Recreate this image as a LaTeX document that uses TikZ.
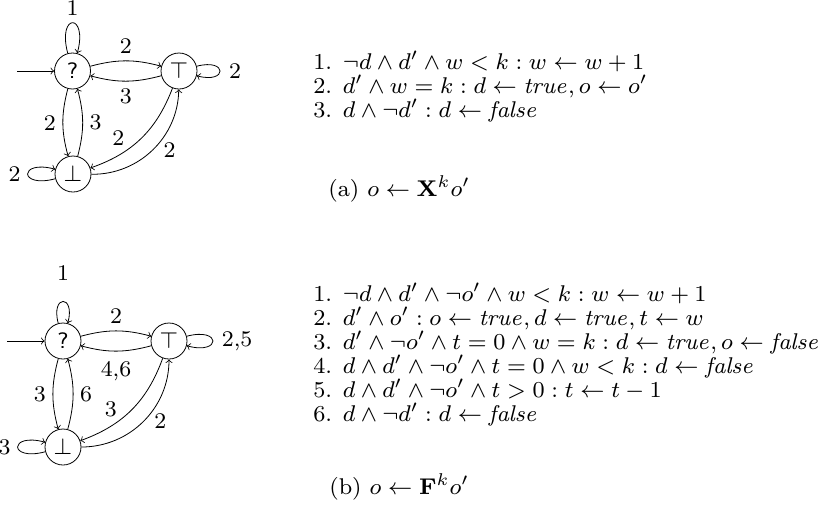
\documentclass[tikz,border=0pt]{standalone}
\newcommand{\zz}[1]{\scalebox{1.4}{\footnotesize #1}}
\newcommand{\zt}[1]{\scalebox{1.423}{\footnotesize #1}}
\begin{document}
\begin{tikzpicture}[x=0.5pt,y=-0.5pt,>=to,
  st/.style={draw,circle,minimum size=18pt,inner sep=0pt},
  txt/.style={anchor=base west,inner sep=0pt}]
\useasboundingbox (0,0) rectangle (823,509);
% ---------- top automaton
\node[st] (q1) at (72.5,71) {\zz{\textsf{?}}};
\node[st] (t1) at (179,71) {\zz{$\top$}};
\node[st] (b1) at (73,174) {\zz{$\bot$}};
\coordinate (i1) at (17,71);
\draw[->] (i1) -- (q1);
\draw[->] (q1) to[loop above,looseness=1,min distance=21pt] node[above] {\zz{1}} (q1);
\draw[->] (t1) to[loop right,looseness=1,min distance=16pt] node[right,xshift=1pt] {\zz{2}} (t1);
\draw[->] (b1) to[loop left,looseness=1,min distance=19pt] node[left] {\zz{2}} (b1);
\draw[->] (q1) to[bend left=15] node[above] {\zz{2}} (t1);
\draw[->] (t1) to[bend left=15] node[below] {\zz{3}} (q1);
\draw[->] (q1) to[bend right=15] node[left] {\zz{2}} (b1);
\draw[->] (b1) to[bend right=15] node[right] {\zz{3}} (q1);
\draw[->] (t1) to[bend left=25] node[left,xshift=-5pt] {\zz{2}} (b1);
\draw[->] (b1) to[bend right=45] node[right,xshift=2pt] {\zz{2}} (t1);
% ---------- top rules
\node[txt] (a1) at (313,69) {\zt{1. $\neg d \wedge d' \wedge w < k : w \leftarrow w+1$}};
\node[txt] (a2) at (313,93) {\zt{2. $d' \wedge w = k : d \leftarrow \mathit{true}, o \leftarrow o'$}};
\node[txt] (a3) at (313,117) {\zt{3. $d \wedge \neg d' : d \leftarrow \mathit{false}$}};
\node[txt] (ca) at (328,196) {\zt{(a) $o \leftarrow \mathbf{X}^k o'$}};
% ---------- bottom automaton
\node[st] (q2) at (63,341) {\zz{\textsf{?}}};
\node[st] (t2) at (169,341) {\zz{$\top$}};
\node[st] (b2) at (63,447) {\zz{$\bot$}};
\coordinate (i2) at (7,341);
\draw[->] (i2) -- (q2);
\draw[->] (q2) to[loop above,looseness=1,min distance=15pt] node[above,yshift=7pt] {\zz{1}} (q2);
\draw[->] (t2) to[loop right,looseness=1,min distance=18pt] node[right,xshift=1pt] {\zz{2,5}} (t2);
\draw[->] (b2) to[loop left,looseness=1,min distance=19pt] node[left] {\zz{3}} (b2);
\draw[->] (q2) to[bend left=15] node[above] {\zz{2}} (t2);
\draw[->] (t2) to[bend left=15] node[below,yshift=-1.5pt] {\zz{4,6}} (q2);
\draw[->] (q2) to[bend right=15] node[left] {\zz{3}} (b2);
\draw[->] (b2) to[bend right=15] node[right] {\zz{6}} (q2);
\draw[->] (t2) to[bend left=25] node[left,xshift=-4pt] {\zz{3}} (b2);
\draw[->] (b2) to[bend right=45] node[right,xshift=2pt] {\zz{2}} (t2);
% ---------- bottom rules
\node[txt] (r1) at (313,301) {\zt{1. $\neg d \wedge d' \wedge \neg o' \wedge w < k : w \leftarrow w+1$}};
\node[txt] (r2) at (313,325) {\zt{2. $d' \wedge o' : o \leftarrow \mathit{true}, d \leftarrow \mathit{true}, t \leftarrow w$}};
\node[txt] (r3) at (313,349) {\zt{3. $d' \wedge \neg o' \wedge t = 0 \wedge w = k : d \leftarrow \mathit{true}, o \leftarrow \mathit{false}$}};
\node[txt] (r4) at (313,373) {\zt{4. $d \wedge d' \wedge \neg o' \wedge t = 0 \wedge w < k : d \leftarrow \mathit{false}$}};
\node[txt] (r5) at (313,397) {\zt{5. $d \wedge d' \wedge \neg o' \wedge t > 0 : t \leftarrow t-1$}};
\node[txt] (r6) at (313,421) {\zt{6. $d \wedge \neg d' : d \leftarrow \mathit{false}$}};
\node[txt] (cb) at (329,494) {\zt{(b) $o \leftarrow \mathbf{F}^k o'$}};
\end{tikzpicture}
\end{document}
